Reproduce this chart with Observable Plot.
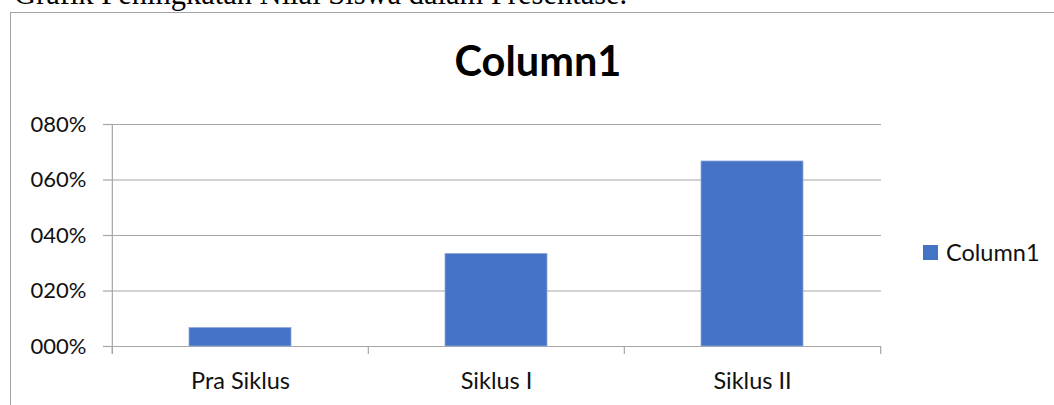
<!DOCTYPE html>
<html>
<head>
<meta charset="utf-8">
<script src="https://cdn.jsdelivr.net/npm/d3@7"></script>
<script src="https://cdn.jsdelivr.net/npm/@observablehq/plot@0.6"></script>
<style>
  html, body { margin: 0; padding: 0; background: #fff; }
  #wrap { position: relative; width: 1054px; height: 405px; overflow: hidden; background: #fff; }
  #caption { position: absolute; left: 14px; top: -21px; font-family: "Liberation Serif", "Times New Roman", serif; font-size: 30.5px; line-height: 1; white-space: nowrap; color: #000; }
  #box { position: absolute; left: 10px; top: 12px; width: 1100px; height: 500px; border: 1.5px solid #a3a3a3; box-sizing: border-box; }
  #chart { position: absolute; left: 0; top: 0; }
  #title { position: absolute; left: 0; width: 1076px; top: 40px; text-align: center; font-family: Lato, sans-serif; font-weight: bold; font-size: 41.5px; line-height: 1; color: #000; }
  #legend-swatch { position: absolute; left: 923px; top: 245px; width: 15px; height: 15px; }
  #legend-text { position: absolute; left: 946px; top: 241px; font-family: Lato, sans-serif; font-size: 23.5px; line-height: 1; color: #111; }
</style>
</head>
<body>
<div id="wrap">
  <div id="caption"></div>
  <div id="box"></div>
  <div id="chart"></div>
  <div id="title"></div>
  <div id="legend-swatch"></div>
  <div id="legend-text"></div>
</div>
<script>
// ---- data ----
const captionText = "Grafik Peningkatan Nilai Siswa dalam Presentase.";
const chartTitle = "Column1";
const seriesName = "Column1";
const categories = ["Pra Siklus", "Siklus I", "Siklus II"];
const values = [0.0667, 0.3333, 0.6667];
const yTicks = [0, 0.2, 0.4, 0.6, 0.8];
const yTickLabels = ["000%", "020%", "040%", "060%", "080%"];
const barColor = "#4472C4";

// ---- build ----
const data = categories.map((c, i) => ({category: c, value: values[i]}));
const W = 1054, H = 405, mL = 112, mR = 173, mT = 124, mB = 59;
const step = (W - mL - mR) / categories.length;
const grid = "#a6a6a6";

const chart = Plot.plot({
  width: W, height: H,
  marginLeft: mL, marginRight: mR, marginTop: mT, marginBottom: mB,
  style: {fontFamily: "Lato, sans-serif", fontSize: "23px", color: "#111", background: "transparent", overflow: "visible"},
  x: {domain: categories, paddingInner: 0.6, paddingOuter: 0.3},
  y: {domain: [0, 0.8]},
  marks: [
    Plot.gridY(yTicks, {stroke: grid, strokeOpacity: 1, strokeWidth: 1.2}),
    Plot.axisY(yTicks, {tickSize: 9, tickPadding: 17, stroke: grid, strokeOpacity: 1, strokeWidth: 1.2, fontSize: 22,
      tickFormat: d => yTickLabels[yTicks.indexOf(d)], label: null}),
    Plot.barY(data, {x: "category", y: "value", fill: barColor, stroke: "#8faadc", strokeWidth: 0.8}),
    Plot.ruleX(categories, {x: d => d, dx: -step / 2, y1: 0, y2: 0, insetBottom: -8, stroke: grid, strokeWidth: 1.2}),
    Plot.ruleX([categories[0]], {x: d => d, dx: -step / 2, y1: 0.8, y2: 0, insetBottom: -8, stroke: grid, strokeWidth: 1.2}),
    Plot.ruleX([categories[categories.length - 1]], {x: d => d, dx: step / 2, y1: 0, y2: 0, insetBottom: -8, stroke: grid, strokeWidth: 1.2}),
    Plot.axisX({tickSize: 0, tickPadding: 25.5, label: null, fontSize: 23.5})
  ]
});
document.getElementById("chart").appendChild(chart);
document.getElementById("caption").textContent = captionText;
document.getElementById("title").textContent = chartTitle;
document.getElementById("legend-swatch").style.background = barColor;
document.getElementById("legend-text").textContent = seriesName;
</script>
</body>
</html>
